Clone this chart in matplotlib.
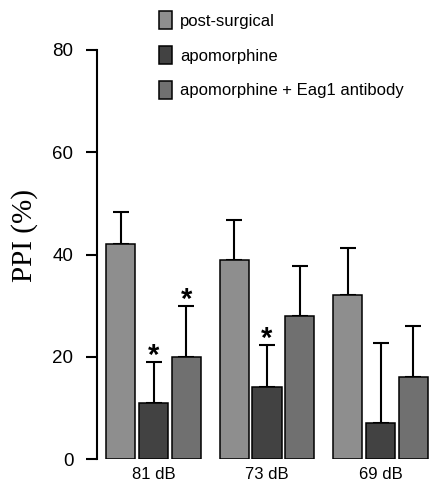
import numpy as np
import matplotlib
matplotlib.use('Agg')
import matplotlib.pyplot as plt

# datos
grupos = ['81 dB', '73 dB', '69 dB']
series = ['post-surgical', 'apomorphine', 'apomorphine + Eag1 antibody']
post_surgical = [42, 39, 32]
apomorphine = [11, 14, 7]
apo_eag1 = [20, 28, 16]
err_post = [6.3, 7.7, 9.2]
err_apo = [8.0, 8.3, 15.6]
err_eag1 = [10.0, 9.8, 10.1]
# marcas de significancia (serie, grupo)
estrellas = [(1, 0), (2, 0), (1, 1)]

valores = [post_surgical, apomorphine, apo_eag1]
errores = [err_post, err_apo, err_eag1]
colores = ['#8e8e8e', '#424242', '#707070']

plt.rcParams['font.family'] = ['Liberation Sans', 'DejaVu Sans']

fig = plt.figure(figsize=(4.3, 4.87), dpi=100)
ax = fig.add_axes([97 / 430, 1 - 459 / 487, 333 / 430, 409 / 487])

x = np.arange(len(grupos))
ancho = 0.256
paso = 0.287

for i in range(3):
    pos = x + (i - 1) * paso
    ax.bar(pos, valores[i], ancho, color=colores[i], edgecolor='black',
           linewidth=1.1, label=series[i], zorder=2)
    ax.errorbar(pos, valores[i], yerr=[np.zeros(3), errores[i]], fmt='none',
                ecolor='black', elinewidth=1.5, capsize=6, capthick=1.5,
                zorder=1, clip_on=False)

for s, g in estrellas:
    top = valores[s][g] + errores[s][g]
    ax.annotate('*', (x[g] + (s - 1) * paso, top), xytext=(0, -1.5),
                textcoords='offset points', ha='center', va='baseline',
                fontsize=21, fontweight='bold')

ax.set_ylim(0, 80)
ax.set_xlim(-0.498, 2.436)
ax.set_yticks([0, 20, 40, 60, 80])
ax.set_xticks(x)
ax.set_xticklabels(grupos, fontsize=12)
ax.tick_params(axis='x', length=0, pad=6)
ax.tick_params(axis='y', labelsize=13.5, length=8, width=1.5, pad=9)
for lado in ['top', 'right', 'bottom']:
    ax.spines[lado].set_visible(False)
ax.spines['left'].set_linewidth(1.5)
ax.grid(False)

fig.text(25 / 430, 1 - 235 / 487, 'PPI (%)', rotation=90, ha='center',
         va='center', fontsize=21, family=['Liberation Serif', 'DejaVu Serif'])

fig.legend(loc='upper left', bbox_to_anchor=(159 / 430, 1 - 11 / 487),
           frameon=False, fontsize=12, handlelength=0.8, handleheight=1.3,
           handletextpad=0.45, labelspacing=1.0, borderpad=0, borderaxespad=0)

plt.savefig('out.png', dpi=100)
plt.close()
